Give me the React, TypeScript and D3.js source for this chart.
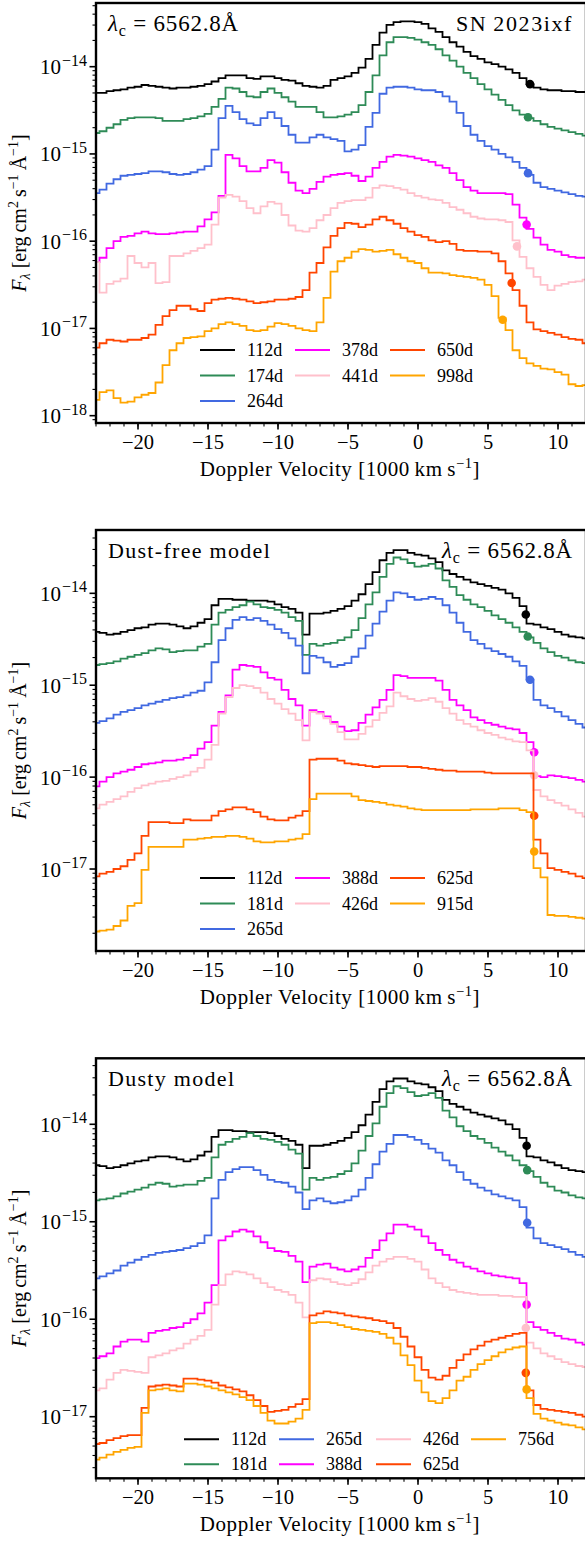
import React from "react";
import * as d3 from "d3";

// Doppler velocity grid, 1000 km/s
const velocity = [
  -23, -22.5, -22, -21.5, -21, -20.5, -20, -19.5, -19, -18.5,
  -18, -17.5, -17, -16.5, -16, -15.5, -15, -14.5, -14, -13.5,
  -13, -12.5, -12, -11.5, -11, -10.5, -10, -9.5, -9, -8.5,
  -8, -7.5, -7, -6.5, -6, -5.5, -5, -4.5, -4, -3.5,
  -3, -2.5, -2, -1.5, -1, -0.5, 0, 0.5, 1, 1.5,
  2, 2.5, 3, 3.5, 4, 4.5, 5, 5.5, 6, 6.5,
  7, 7.5, 8, 8.5, 9, 9.5, 10, 10.5, 11, 11.5, 12,
];

// ---- SN 2023ixf observed spectra (log10 F_lambda)
const obs112 = [
  -14.30, -14.30, -14.28, -14.27, -14.26, -14.24, -14.23, -14.21, -14.22, -14.23,
  -14.24, -14.25, -14.24, -14.24, -14.23, -14.22, -14.20, -14.17, -14.13, -14.10,
  -14.10, -14.10, -14.13, -14.14, -14.11, -14.11, -14.13, -14.15, -14.16, -14.19,
  -14.22, -14.23, -14.24, -14.22, -14.15, -14.13, -14.11, -14.07, -14.01, -13.91,
  -13.75, -13.61, -13.52, -13.49, -13.48, -13.48, -13.49, -13.51, -13.56, -13.60,
  -13.66, -13.72, -13.77, -13.83, -13.88, -13.91, -13.95, -13.97, -14.00, -14.03,
  -14.07, -14.13, -14.20, -14.24, -14.26, -14.27, -14.27, -14.28, -14.28, -14.29, -14.29,
];
const obs174 = [
  -14.76, -14.74, -14.70, -14.66, -14.61, -14.59, -14.58, -14.58, -14.58, -14.59,
  -14.62, -14.62, -14.62, -14.60, -14.59, -14.57, -14.54, -14.46, -14.37, -14.24,
  -14.25, -14.29, -14.34, -14.35, -14.29, -14.25, -14.30, -14.35, -14.40, -14.46,
  -14.46, -14.46, -14.52, -14.58, -14.58, -14.57, -14.55, -14.52, -14.44, -14.29,
  -14.10, -13.87, -13.72, -13.66, -13.66, -13.67, -13.69, -13.72, -13.75, -13.80,
  -13.87, -13.93, -14.00, -14.07, -14.13, -14.20, -14.26, -14.32, -14.38, -14.44,
  -14.50, -14.55, -14.59, -14.62, -14.66, -14.69, -14.71, -14.73, -14.75, -14.77, -14.79,
];
const obs264 = [
  -15.45, -15.41, -15.34, -15.29, -15.25, -15.24, -15.23, -15.22, -15.20, -15.20,
  -15.21, -15.23, -15.24, -15.23, -15.21, -15.18, -15.14, -14.95, -14.59, -14.45,
  -14.52, -14.60, -14.65, -14.67, -14.59, -14.52, -14.59, -14.68, -14.78, -14.87,
  -14.87, -14.81, -14.78, -14.81, -14.83, -14.85, -14.97, -14.95, -14.90, -14.69,
  -14.53, -14.31, -14.24, -14.23, -14.23, -14.24, -14.26, -14.27, -14.27, -14.29,
  -14.34, -14.40, -14.53, -14.68, -14.78, -14.85, -14.91, -14.95, -15.00, -15.04,
  -15.09, -15.16, -15.24, -15.33, -15.38, -15.40, -15.42, -15.44, -15.46, -15.48, -15.49,
];
const obs378 = [
  -16.24, -16.19, -16.08, -16.00, -15.95, -15.94, -15.91, -15.89, -15.91, -15.92,
  -15.92, -15.91, -15.90, -15.89, -15.89, -15.83, -15.75, -15.67, -15.48, -15.01,
  -15.05, -15.14, -15.20, -15.20, -15.16, -15.07, -15.10, -15.21, -15.33, -15.42,
  -15.45, -15.40, -15.32, -15.26, -15.24, -15.23, -15.22, -15.25, -15.31, -15.26,
  -15.16, -15.09, -15.03, -15.01, -15.02, -15.03, -15.05, -15.07, -15.09, -15.13,
  -15.16, -15.22, -15.30, -15.38, -15.42, -15.45, -15.45, -15.45, -15.45, -15.46,
  -15.58, -15.73, -15.86, -15.96, -16.04, -16.10, -16.12, -16.16, -16.18, -16.19, -16.19,
];
const obs441 = [
  -16.24, -16.59, -16.49, -16.46, -16.43, -16.17, -16.25, -16.30, -16.25, -16.48,
  -16.47, -16.17, -16.17, -16.14, -16.11, -16.08, -16.04, -15.81, -15.50, -15.47,
  -15.49, -15.54, -15.62, -15.68, -15.60, -15.55, -15.57, -15.70, -15.82, -15.88,
  -15.89, -15.85, -15.76, -15.70, -15.62, -15.56, -15.54, -15.53, -15.53, -15.50,
  -15.39, -15.36, -15.37, -15.39, -15.41, -15.45, -15.48, -15.50, -15.52, -15.53,
  -15.56, -15.61, -15.64, -15.68, -15.72, -15.74, -15.75, -15.75, -15.76, -15.78,
  -15.99, -16.18, -16.31, -16.41, -16.50, -16.56, -16.51, -16.49, -16.47, -16.46, -16.44,
];
const obs650 = [
  -17.22, -17.17, -17.13, -17.14, -17.15, -17.13, -17.13, -17.11, -17.07, -16.96,
  -16.86, -16.79, -16.74, -16.74, -16.78, -16.80, -16.71, -16.67, -16.66, -16.65,
  -16.66, -16.67, -16.69, -16.71, -16.70, -16.69, -16.67, -16.67, -16.66, -16.64,
  -16.56, -16.36, -16.25, -16.07, -15.94, -15.85, -15.79, -15.80, -15.84, -15.81,
  -15.75, -15.72, -15.76, -15.80, -15.85, -15.89, -15.93, -15.95, -15.99, -16.01,
  -16.00, -16.03, -16.10, -16.11, -16.11, -16.12, -16.12, -16.14, -16.23, -16.37,
  -16.56, -16.74, -16.93, -17.01, -17.03, -17.05, -17.07, -17.10, -17.12, -17.13, -17.17,
];
const obs998 = [
  -17.82, -17.73, -17.71, -17.80, -17.85, -17.84, -17.79, -17.76, -17.74, -17.62,
  -17.42, -17.25, -17.17, -17.11, -17.10, -17.09, -17.03, -17.00, -16.95, -16.93,
  -16.95, -16.97, -17.02, -17.03, -17.02, -16.98, -16.94, -16.95, -16.97, -17.00,
  -17.02, -17.03, -16.93, -16.65, -16.35, -16.23, -16.19, -16.12, -16.09, -16.10,
  -16.12, -16.11, -16.10, -16.15, -16.19, -16.23, -16.25, -16.31, -16.36, -16.36,
  -16.37, -16.39, -16.40, -16.41, -16.42, -16.44, -16.50, -16.63, -16.88, -17.02,
  -17.25, -17.34, -17.40, -17.43, -17.46, -17.47, -17.50, -17.53, -17.64, -17.66, -17.65,
];
const obsLabels = ["112d", "174d", "264d", "378d", "441d", "650d", "998d"];
const obsMarkVel = [8.0, 7.86, 7.86, 7.76, 7.07, 6.69, 6.05];
const obsMarkLog = [-14.2, -14.58, -15.22, -15.81, -16.06, -16.48, -16.9];

// ---- dust-free model
const free112 = [
  -14.42, -14.43, -14.45, -14.44, -14.42, -14.40, -14.38, -14.37, -14.34, -14.33,
  -14.33, -14.34, -14.36, -14.38, -14.36, -14.32, -14.28, -14.13, -14.06, -14.06,
  -14.07, -14.07, -14.08, -14.08, -14.08, -14.09, -14.12, -14.15, -14.17, -14.21,
  -14.45, -14.22, -14.22, -14.21, -14.19, -14.17, -14.14, -14.08, -14.01, -13.90,
  -13.77, -13.64, -13.56, -13.53, -13.53, -13.56, -13.58, -13.59, -13.62, -13.66,
  -13.75, -13.79, -13.82, -13.85, -13.88, -13.90, -13.92, -13.94, -13.96, -14.00,
  -14.05, -14.14, -14.33, -14.34, -14.37, -14.39, -14.42, -14.45, -14.47, -14.48, -14.49,
];
const free181 = [
  -14.78, -14.77, -14.76, -14.74, -14.71, -14.69, -14.67, -14.65, -14.62, -14.60,
  -14.61, -14.64, -14.63, -14.62, -14.62, -14.58, -14.55, -14.34, -14.21, -14.18,
  -14.15, -14.13, -14.09, -14.12, -14.15, -14.16, -14.18, -14.21, -14.26, -14.30,
  -14.67, -14.55, -14.57, -14.55, -14.54, -14.51, -14.48, -14.40, -14.27, -14.12,
  -13.99, -13.82, -13.68, -13.61, -13.63, -13.67, -13.71, -13.70, -13.68, -13.73,
  -13.86, -13.93, -14.02, -14.07, -14.12, -14.15, -14.19, -14.24, -14.28, -14.32,
  -14.37, -14.42, -14.48, -14.54, -14.60, -14.64, -14.68, -14.70, -14.73, -14.75, -14.76,
];
const free265 = [
  -15.41, -15.39, -15.36, -15.32, -15.29, -15.27, -15.25, -15.22, -15.20, -15.18,
  -15.16, -15.14, -15.13, -15.11, -15.08, -15.06, -14.97, -14.75, -14.51, -14.38,
  -14.29, -14.26, -14.29, -14.27, -14.30, -14.34, -14.39, -14.43, -14.49, -14.57,
  -14.87, -14.68, -14.70, -14.75, -14.80, -14.78, -14.76, -14.69, -14.60, -14.46,
  -14.33, -14.20, -14.08, -13.99, -14.00, -14.04, -14.07, -14.06, -14.04, -14.06,
  -14.13, -14.21, -14.32, -14.42, -14.51, -14.55, -14.60, -14.63, -14.66, -14.69,
  -14.74, -14.79, -14.94, -15.16, -15.22, -15.25, -15.29, -15.34, -15.38, -15.42, -15.46,
];
const free388 = [
  -16.10, -16.05, -16.00, -15.96, -15.94, -15.92, -15.89, -15.86, -15.85, -15.84,
  -15.82, -15.82, -15.81, -15.79, -15.76, -15.69, -15.62, -15.44, -15.29, -15.11,
  -14.83, -14.78, -14.79, -14.80, -14.86, -14.92, -14.94, -15.05, -15.15, -15.22,
  -15.44, -15.27, -15.29, -15.34, -15.40, -15.45, -15.50, -15.49, -15.41, -15.32,
  -15.24, -15.16, -15.05, -14.89, -14.90, -14.92, -14.92, -14.92, -14.92, -14.95,
  -15.05, -15.16, -15.22, -15.27, -15.35, -15.38, -15.41, -15.43, -15.45, -15.47,
  -15.48, -15.52, -15.62, -15.99, -16.00, -15.98, -15.99, -16.00, -16.01, -16.03, -16.05,
];
const free426 = [
  -16.34, -16.30, -16.27, -16.24, -16.21, -16.16, -16.12, -16.09, -16.07, -16.05,
  -16.04, -16.02, -16.00, -15.98, -15.94, -15.90, -15.81, -15.65, -15.31, -15.13,
  -15.03, -15.00, -15.01, -15.03, -15.08, -15.15, -15.20, -15.26, -15.31, -15.38,
  -15.60, -15.29, -15.31, -15.36, -15.42, -15.51, -15.59, -15.59, -15.53, -15.45,
  -15.38, -15.30, -15.23, -15.08, -15.12, -15.15, -15.17, -15.16, -15.14, -15.18,
  -15.25, -15.31, -15.38, -15.42, -15.45, -15.49, -15.52, -15.54, -15.57, -15.59,
  -15.61, -15.62, -15.71, -16.14, -16.21, -16.25, -16.28, -16.31, -16.35, -16.39, -16.43,
];
const free625 = [
  -17.08, -17.05, -17.03, -17.00, -16.97, -16.90, -16.83, -16.64, -16.49, -16.49,
  -16.49, -16.50, -16.50, -16.46, -16.47, -16.47, -16.47, -16.42, -16.37, -16.35,
  -16.33, -16.33, -16.35, -16.38, -16.43, -16.46, -16.47, -16.47, -16.44, -16.42,
  -16.37, -15.81, -15.80, -15.80, -15.80, -15.82, -15.85, -15.86, -15.87, -15.88,
  -15.89, -15.88, -15.88, -15.88, -15.88, -15.89, -15.89, -15.90, -15.91, -15.92,
  -15.93, -15.93, -15.94, -15.94, -15.94, -15.94, -15.95, -15.96, -15.96, -15.96,
  -15.96, -15.96, -15.96, -16.68, -16.83, -16.99, -17.01, -17.03, -17.05, -17.08, -17.10,
];
const free915 = [
  -17.68, -17.67, -17.66, -17.62, -17.56, -17.40, -17.37, -17.01, -16.76, -16.76,
  -16.76, -16.76, -16.76, -16.68, -16.68, -16.67, -16.66, -16.65, -16.65, -16.64,
  -16.64, -16.65, -16.67, -16.70, -16.71, -16.71, -16.70, -16.70, -16.68, -16.67,
  -16.62, -16.24, -16.18, -16.18, -16.18, -16.18, -16.18, -16.21, -16.25, -16.26,
  -16.27, -16.28, -16.30, -16.31, -16.32, -16.34, -16.35, -16.36, -16.36, -16.36,
  -16.36, -16.36, -16.36, -16.36, -16.35, -16.35, -16.35, -16.35, -16.34, -16.34,
  -16.34, -16.36, -16.38, -16.99, -17.09, -17.50, -17.51, -17.51, -17.52, -17.53, -17.54,
];
const freeLabels = ["112d", "181d", "265d", "388d", "426d", "625d", "915d"];
const freeMarkVel = [7.7, 7.84, 8.0, 8.3, 8.3, 8.3, 8.3];
const freeMarkLog = [-14.23, -14.47, -14.94, -15.73, -15.98, -16.42, -16.81];

// ---- dusty model (early epochs identical to dust-free)
const dusty112 = free112;
const dusty181 = free181;
const dusty265 = [
  -15.58, -15.56, -15.53, -15.50, -15.45, -15.42, -15.39, -15.36, -15.34, -15.32,
  -15.31, -15.30, -15.29, -15.27, -15.25, -15.22, -15.14, -14.76, -14.57, -14.49,
  -14.46, -14.44, -14.44, -14.47, -14.52, -14.57, -14.59, -14.60, -14.64, -14.70,
  -14.87, -14.78, -14.76, -14.79, -14.81, -14.80, -14.78, -14.74, -14.67, -14.55,
  -14.41, -14.28, -14.20, -14.11, -14.11, -14.13, -14.16, -14.20, -14.25, -14.29,
  -14.37, -14.42, -14.49, -14.57, -14.61, -14.65, -14.68, -14.72, -14.74, -14.76,
  -14.78, -14.85, -15.06, -15.17, -15.22, -15.24, -15.26, -15.28, -15.31, -15.34, -15.36,
];
const dusty388 = [
  -16.40, -16.38, -16.35, -16.28, -16.23, -16.21, -16.21, -16.23, -16.14, -16.12,
  -16.11, -16.09, -16.08, -16.04, -16.00, -15.94, -15.83, -15.65, -15.19, -15.15,
  -15.10, -15.08, -15.10, -15.15, -15.21, -15.27, -15.30, -15.31, -15.35, -15.41,
  -15.62, -15.46, -15.44, -15.43, -15.47, -15.49, -15.51, -15.49, -15.46, -15.37,
  -15.29, -15.19, -15.12, -15.03, -15.03, -15.05, -15.08, -15.15, -15.22, -15.29,
  -15.34, -15.39, -15.42, -15.46, -15.48, -15.51, -15.53, -15.55, -15.56, -15.57,
  -15.58, -15.63, -16.03, -16.08, -16.11, -16.14, -16.17, -16.20, -16.21, -16.24, -16.26,
];
const dusty426 = [
  -16.73, -16.71, -16.62, -16.55, -16.52, -16.53, -16.54, -16.55, -16.39, -16.37,
  -16.35, -16.32, -16.30, -16.25, -16.21, -16.17, -16.11, -15.85, -15.65, -15.54,
  -15.51, -15.52, -15.54, -15.58, -15.63, -15.67, -15.70, -15.72, -15.75, -15.83,
  -15.98, -15.60, -15.58, -15.59, -15.62, -15.64, -15.65, -15.63, -15.59, -15.52,
  -15.45, -15.41, -15.38, -15.36, -15.36, -15.38, -15.41, -15.49, -15.58, -15.63,
  -15.67, -15.70, -15.72, -15.73, -15.74, -15.75, -15.75, -15.75, -15.76, -15.76,
  -15.77, -15.77, -16.24, -16.30, -16.35, -16.38, -16.41, -16.44, -16.46, -16.48, -16.49,
];
const dusty625 = [
  -17.28, -17.27, -17.24, -17.22, -17.20, -17.19, -17.19, -16.91, -16.69, -16.68,
  -16.67, -16.68, -16.69, -16.61, -16.61, -16.62, -16.63, -16.65, -16.68, -16.70,
  -16.72, -16.74, -16.78, -16.83, -16.89, -16.95, -16.94, -16.93, -16.90, -16.87,
  -16.82, -15.96, -15.94, -15.92, -15.93, -15.94, -15.96, -15.97, -15.98, -15.99,
  -16.01, -16.02, -16.04, -16.09, -16.18, -16.28, -16.39, -16.52, -16.60, -16.62,
  -16.58, -16.50, -16.42, -16.36, -16.31, -16.27, -16.23, -16.21, -16.19, -16.17,
  -16.15, -16.14, -16.73, -16.88, -16.92, -16.93, -16.94, -16.95, -16.96, -16.98, -17.00,
];
const dusty756 = [
  -17.44, -17.42, -17.39, -17.36, -17.34, -17.32, -17.31, -16.96, -16.73, -16.72,
  -16.71, -16.73, -16.74, -16.66, -16.66, -16.67, -16.69, -16.71, -16.73, -16.75,
  -16.77, -16.80, -16.83, -16.89, -16.96, -17.04, -17.07, -17.07, -17.05, -17.02,
  -16.93, -16.04, -16.03, -16.03, -16.04, -16.06, -16.08, -16.10, -16.11, -16.12,
  -16.13, -16.15, -16.19, -16.25, -16.37, -16.47, -16.63, -16.75, -16.84, -16.86,
  -16.81, -16.73, -16.63, -16.59, -16.52, -16.46, -16.42, -16.38, -16.34, -16.31,
  -16.29, -16.28, -16.81, -16.97, -17.02, -17.04, -17.06, -17.08, -17.09, -17.11, -17.13,
];
const dustyLabels = ["112d", "181d", "265d", "388d", "426d", "625d", "756d"];
const dustyMarkVel = [7.76, 7.8, 7.8, 7.76, 7.7, 7.7, 7.76];
const dustyMarkLog = [-14.22, -14.47, -15.01, -15.85, -16.09, -16.55, -16.72];

const colors = ["black", "seagreen", "royalblue", "magenta", "pink", "orangered", "orange"];
const xTicks = [-20, -15, -10, -5, 0, 5, 10];
const xMinor = d3.range(-23, 13, 1);

const FONT = "'Liberation Serif', 'Times New Roman', serif";
const X0 = 96;
const X1 = 586;

const panels = [
  {
    id: "obs", top: 3, bottom: 423, logMin: -18.084, logMax: -13.27,
    series: [obs112, obs174, obs264, obs378, obs441, obs650, obs998],
    labels: obsLabels, markVel: obsMarkVel, markLog: obsMarkLog,
    decades: [-14, -15, -16, -17, -18], ncol: 3,
    legendX: [200, 295, 390], legendY: [-73, -47.5, -22],
    left: "lambda", right: "SN 2023ixf",
  },
  {
    id: "free", top: 530, bottom: 951, logMin: -17.892, logMax: -13.311,
    series: [free112, free181, free265, free388, free426, free625, free915],
    labels: freeLabels, markVel: freeMarkVel, markLog: freeMarkLog,
    decades: [-14, -15, -16, -17], ncol: 3,
    legendX: [200, 295, 390], legendY: [-73, -47.5, -22],
    left: "Dust-free model", right: "lambda",
  },
  {
    id: "dusty", top: 1058.3, bottom: 1478.3, logMin: -17.632, logMax: -13.323,
    series: [dusty112, dusty181, dusty265, dusty388, dusty426, dusty625, dusty756],
    labels: dustyLabels, markVel: dustyMarkVel, markLog: dustyMarkLog,
    decades: [-14, -15, -16, -17], ncol: 4,
    legendX: [184, 279, 376, 471], legendY: [-39, -14],
    left: "Dusty model", right: "lambda",
  },
];

const fmt = (v: number) => (v < 0 ? "\u2212" + Math.abs(v) : String(v));

function Lambda({ x, y, anchor }: { x: number; y: number; anchor: string }) {
  return (
    <text x={x} y={y} textAnchor={anchor} fontSize={23} letterSpacing={0.8}>
      <tspan fontStyle="italic">λ</tspan>
      <tspan fontSize={16} dy={5}>c</tspan>
      <tspan dy={-5}>{" = 6562.8Å"}</tspan>
    </text>
  );
}

function Panel({ p }: { p: any }) {
  const x = d3.scaleLinear().domain([-23, 12]).range([X0, X1]);
  const y = d3.scaleLog().domain([10 ** p.logMin, 10 ** p.logMax]).range([p.bottom, p.top]);
  const line = d3
    .line<number>()
    .x((_, i) => x(velocity[i]))
    .y((d) => y(10 ** d))
    .curve(d3.curveStep);

  const minorY: number[] = [];
  for (let e = -19; e <= -13; e++) {
    for (let m = 2; m <= 9; m++) {
      const v = m * 10 ** e;
      if (v > 10 ** p.logMin && v < 10 ** p.logMax) minorY.push(v);
    }
  }

  // legend column layout, column-major like matplotlib
  const n = p.labels.length;
  const base = Math.floor(n / p.ncol);
  const extra = n % p.ncol;
  const legendItems: { i: number; col: number; row: number }[] = [];
  let k = 0;
  for (let c = 0; c < p.ncol; c++) {
    const cnt = base + (c < extra ? 1 : 0);
    for (let r = 0; r < cnt; r++) legendItems.push({ i: k++, col: c, row: r });
  }

  const clipId = `clip-${p.id}`;
  const titleY = p.top + 28;
  const midY = (p.top + p.bottom) / 2;

  return (
    <g>
      <defs>
        <clipPath id={clipId}>
          <rect x={X0} y={p.top} width={X1 - X0} height={p.bottom - p.top} />
        </clipPath>
      </defs>

      <g clipPath={`url(#${clipId})`}>
        {p.series.map((s: number[], i: number) => (
          <g key={i}>
            <path d={line(s) || ""} fill="none" stroke={colors[i]} strokeWidth={1.8} />
            <circle cx={x(p.markVel[i])} cy={y(10 ** p.markLog[i])} r={4.3} fill={colors[i]} />
          </g>
        ))}
      </g>

      {/* frame */}
      <rect x={X0} y={p.top} width={X1 - X0} height={p.bottom - p.top} fill="none" stroke="black" strokeWidth={2.4} />

      {/* y ticks */}
      {minorY.map((v, i) => (
        <line key={"ym" + i} x1={X0} x2={X0 - 3.5} y1={y(v)} y2={y(v)} stroke="black" strokeWidth={1.1} />
      ))}
      {p.decades.map((e: number) => (
        <g key={"yd" + e}>
          <line x1={X0} x2={X0 - 6.5} y1={y(10 ** e)} y2={y(10 ** e)} stroke="black" strokeWidth={1.6} />
          <text x={87} y={y(10 ** e) + 7.5} textAnchor="end" fontSize={21}>
            10
            <tspan dy={-8.5} dx={1} fontSize={16}>{fmt(e)}</tspan>
          </text>
        </g>
      ))}

      {/* x ticks */}
      {xMinor.map((v) => (
        <line key={"xm" + v} x1={x(v)} x2={x(v)} y1={p.bottom} y2={p.bottom + 3.5} stroke="black" strokeWidth={1.1} />
      ))}
      {xTicks.map((v) => (
        <g key={"xt" + v}>
          <line x1={x(v)} x2={x(v)} y1={p.bottom} y2={p.bottom + 6.5} stroke="black" strokeWidth={1.6} />
          <text x={x(v)} y={p.bottom + 26} textAnchor="middle" fontSize={20.5}>
            {fmt(v)}
          </text>
        </g>
      ))}

      {/* axis labels */}
      <text x={(X0 + X1) / 2 - 1} y={p.bottom + 52.5} textAnchor="middle" fontSize={21} letterSpacing={0.55}>
        {"Doppler Velocity [1000\u2009km\u2009s"}
        <tspan dy={-8} fontSize={14.5}>{"\u22121"}</tspan>
        <tspan dy={8}>]</tspan>
      </text>
      <text transform={`translate(26,${midY}) rotate(-90)`} textAnchor="middle" fontSize={20}>
        <tspan fontStyle="italic">F</tspan>
        <tspan fontSize={14} dy={4} fontStyle="italic">λ</tspan>
        <tspan dy={-4}>{" [erg\u2009cm"}</tspan>
        <tspan fontSize={14} dy={-8}>2</tspan>
        <tspan dy={8}>{"\u2009s"}</tspan>
        <tspan fontSize={14} dy={-8}>{"\u22121"}</tspan>
        <tspan dy={8}>{"\u2009Å"}</tspan>
        <tspan fontSize={14} dy={-8}>{"\u22121"}</tspan>
        <tspan dy={8}>]</tspan>
      </text>

      {/* panel annotations */}
      {p.left === "lambda" ? (
        <Lambda x={108} y={titleY} anchor="start" />
      ) : (
        <text x={108} y={titleY} fontSize={22} letterSpacing={1.3}>
          {p.left}
        </text>
      )}
      {p.right === "lambda" ? (
        <Lambda x={573} y={titleY} anchor="end" />
      ) : (
        <text x={573} y={titleY} textAnchor="end" fontSize={22} letterSpacing={1.6}>
          {"SN\u20092023ixf"}
        </text>
      )}

      {/* legend */}
      {legendItems.map(({ i, col, row }) => {
        const lx = p.legendX[col];
        const ly = p.bottom + p.legendY[row];
        return (
          <g key={"lg" + i}>
            <line x1={lx} x2={lx + 35} y1={ly} y2={ly} stroke={colors[i]} strokeWidth={2} />
            <text x={lx + 47} y={ly + 6} fontSize={18}>
              {p.labels[i]}
            </text>
          </g>
        );
      })}
    </g>
  );
}

export default function App() {
  return (
    <svg
      width={585}
      height={1542}
      style={{ position: "absolute", left: 0, top: 0, background: "white" }}
      fontFamily={FONT}
    >
      <rect width={585} height={1542} fill="white" />
      {panels.map((p) => (
        <Panel key={p.id} p={p} />
      ))}
    </svg>
  );
}
